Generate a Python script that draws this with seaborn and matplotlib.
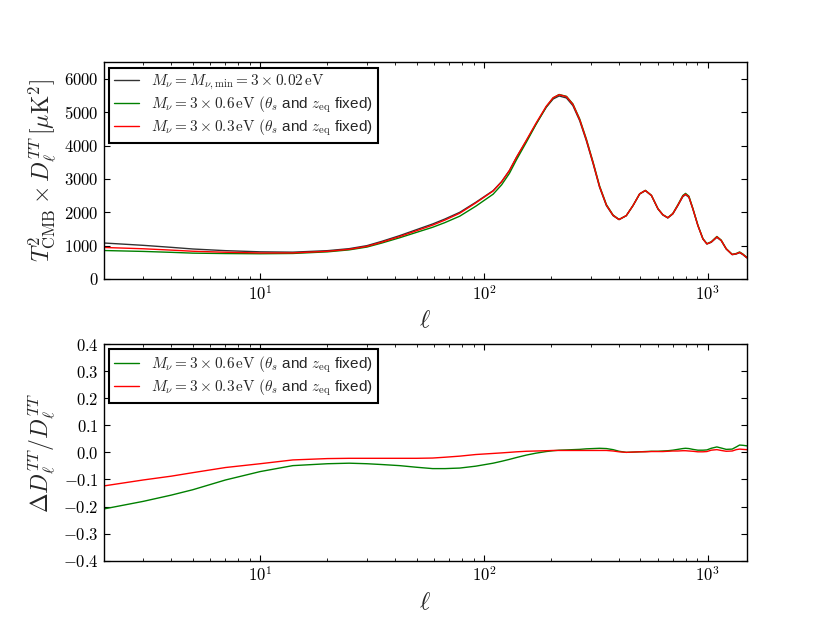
import numpy as np
import pandas as pd
import seaborn as sns
import matplotlib
matplotlib.use("Agg")
import matplotlib.pyplot as plt
from matplotlib.ticker import FuncFormatter, MultipleLocator

# multipoles
ell = [2, 3, 4, 5, 7, 10, 14, 20, 25, 30, 35, 42, 50, 59, 67, 78, 92, 110, 120,
       130, 140, 155, 171, 190, 204, 217, 234, 250, 268, 287, 308, 329, 353, 378,
       402, 433, 464, 497, 527, 561, 600, 631, 664, 699, 736, 775, 797, 825, 859,
       905, 953, 993, 1038, 1100, 1150, 1211, 1288, 1343, 1390, 1438, 1500]

# minimal mass spectrum T_CMB^2 D_ell^TT [muK^2]
d_min = [1080, 1010, 950, 900, 850, 815, 805, 850, 910, 1000, 1130, 1300, 1480,
         1650, 1800, 2000, 2300, 2650, 2920, 3250, 3650, 4150, 4650, 5150, 5400,
         5490, 5430, 5200, 4750, 4150, 3450, 2750, 2200, 1900, 1780, 1900, 2200,
         2550, 2650, 2500, 2100, 1920, 1830, 1950, 2200, 2470, 2530, 2450, 2100,
         1600, 1200, 1050, 1100, 1250, 1150, 900, 730, 750, 790, 730, 630]

# relative difference Delta D / D
rel_06 = [-0.209, -0.181, -0.158, -0.138, -0.102, -0.071, -0.049, -0.042, -0.040,
          -0.042, -0.045, -0.049, -0.055, -0.060, -0.060, -0.058, -0.051, -0.040,
          -0.033, -0.026, -0.019, -0.010, -0.003, 0.003, 0.006, 0.008, 0.009,
          0.010, 0.011, 0.013, 0.014, 0.015, 0.014, 0.010, 0.004, 0.000, 0.001,
          0.002, 0.003, 0.004, 0.004, 0.005, 0.006, 0.008, 0.011, 0.014, 0.015,
          0.014, 0.011, 0.008, 0.008, 0.009, 0.015, 0.020, 0.016, 0.011, 0.012,
          0.020, 0.027, 0.026, 0.024]
rel_03 = [-0.124, -0.102, -0.088, -0.075, -0.056, -0.042, -0.028, -0.023, -0.022,
          -0.022, -0.022, -0.022, -0.022, -0.021, -0.018, -0.014, -0.008, -0.004,
          -0.002, 0.000, 0.002, 0.004, 0.005, 0.006, 0.007, 0.007, 0.007, 0.007,
          0.007, 0.007, 0.007, 0.007, 0.007, 0.005, 0.002, 0.000, 0.001, 0.002,
          0.002, 0.003, 0.003, 0.003, 0.004, 0.005, 0.005, 0.006, 0.006, 0.005,
          0.004, 0.002, 0.002, 0.003, 0.008, 0.010, 0.007, 0.004, 0.005, 0.010,
          0.012, 0.011, 0.010]

lab_min = r'$M_\nu = M_{\nu,\rm min} = 3\times 0.02\,{\rm eV}$'
lab_06 = r'$M_\nu = 3\times 0.6\,{\rm eV}\ (\theta_s$ and $z_{\rm eq}$ fixed)'
lab_03 = r'$M_\nu = 3\times 0.3\,{\rm eV}\ (\theta_s$ and $z_{\rm eq}$ fixed)'

df = pd.DataFrame({"ell": ell, "d_min": d_min, "rel_06": rel_06, "rel_03": rel_03})
df["d_06"] = df["d_min"] * (1 + df["rel_06"])
df["d_03"] = df["d_min"] * (1 + df["rel_03"])

sns.set_style("white")
plt.rcParams.update({
    "font.family": ["Liberation Sans", "DejaVu Sans"],
    "mathtext.fontset": "cm",
    "xtick.direction": "in", "ytick.direction": "in",
    "xtick.top": True, "ytick.right": True,
    "xtick.bottom": True, "ytick.left": True,
    "xtick.major.size": 4, "ytick.major.size": 4,
    "xtick.minor.size": 2, "ytick.minor.size": 2,
    "xtick.color": "black", "ytick.color": "black",
    "axes.edgecolor": "black", "axes.linewidth": 1.0,
    "xtick.labelsize": 12, "ytick.labelsize": 12,
})

fig, (ax1, ax2) = plt.subplots(2, 1, figsize=(8.3, 6.23), dpi=100)
fig.subplots_adjust(left=0.125, right=0.9, top=0.9, bottom=0.1, hspace=0.3)

sns.lineplot(data=df, x="ell", y="d_min", ax=ax1, color="k", lw=1, alpha=0.8, label=lab_min)
sns.lineplot(data=df, x="ell", y="d_06", ax=ax1, color="g", lw=1, label=lab_06)
sns.lineplot(data=df, x="ell", y="d_03", ax=ax1, color="r", lw=1, label=lab_03)

sns.lineplot(data=df, x="ell", y="rel_06", ax=ax2, color="g", lw=1, label=lab_06)
sns.lineplot(data=df, x="ell", y="rel_03", ax=ax2, color="r", lw=1, label=lab_03)

logfmt = FuncFormatter(lambda v, p: r'$10^{%d}$' % int(round(np.log10(v))))
for ax in (ax1, ax2):
    ax.set_xscale("log")
    ax.set_xlim(2, 1500)
    ax.xaxis.set_major_formatter(logfmt)
    ax.set_xlabel(r'$\ell$', fontsize=18)
    ax.tick_params(which="both", direction="in", top=True, right=True)
    leg = ax.legend(loc="upper left", fontsize=11, frameon=True, fancybox=False,
                    framealpha=1, edgecolor="black", handlelength=1.6,
                    labelspacing=0.15, borderaxespad=0.35, borderpad=0.35)
    leg.get_frame().set_linewidth(1.5)

ax1.set_ylim(0, 6500)
ax1.yaxis.set_major_locator(MultipleLocator(1000))
ax1.yaxis.set_major_formatter(FuncFormatter(lambda v, p: r'$%d$' % v))
ax1.set_ylabel(r'$T^2_{\rm CMB}\times D_\ell^{TT}\,[\mu{\rm K}^2]$', fontsize=17)

ax2.set_ylim(-0.4, 0.4)
ax2.yaxis.set_major_locator(MultipleLocator(0.1))
ax2.yaxis.set_major_formatter(FuncFormatter(lambda v, p: r'$%.1f$' % v))
ax2.set_ylabel(r'$\Delta D_\ell^{TT}/D_\ell^{TT}$', fontsize=17)

fig.savefig("out.png", dpi=100)
